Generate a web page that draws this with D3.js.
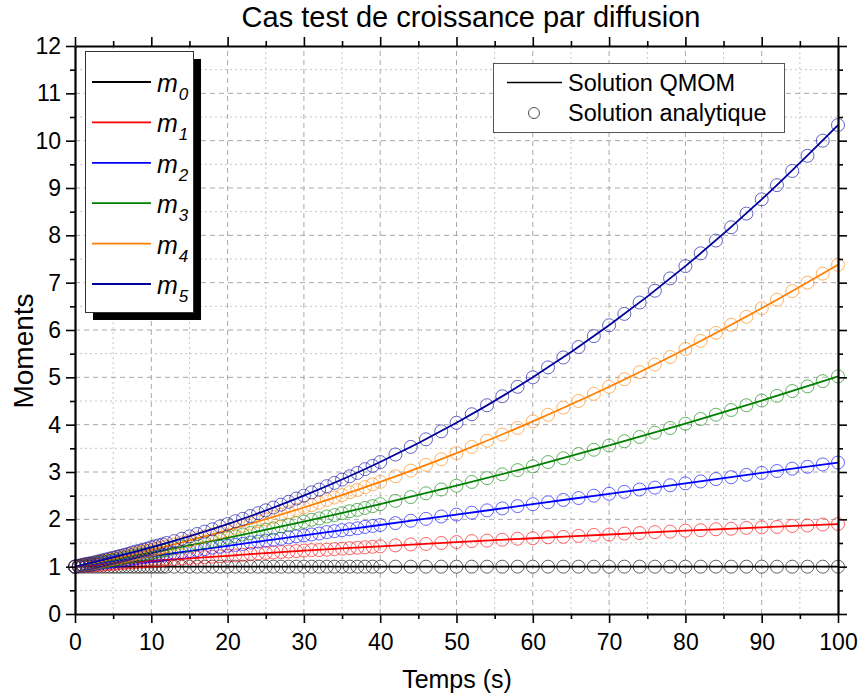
<!DOCTYPE html>
<html>
<head>
<meta charset="utf-8">
<script src="https://cdnjs.cloudflare.com/ajax/libs/d3/7.8.5/d3.min.js"></script>
<style>
    body { margin: 0; background: #fff; }
    text { font-family: "Liberation Sans", Arial, sans-serif; fill: #000; }
</style>
</head>
<body>
<div id="chart"></div>
<script>
// analytic solution: denser sampling at the start, like the reference markers
var tempsAnalytique = [0,0.5,1,1.5,2,2.5,3,3.5,4,4.5,5,5.5,6,6.5,7,7.5,8,8.5,9,9.5,10,10.5,11,11.5,12,
    13,14,15,16,17,18,19,20,21,22,23,24,25,26,27,28,29,30,31,32,33,34,35,36,37,38,39,40,
    42,44,46,48,50,52,54,56,58,60,62,64,66,68,70,72,74,76,78,80,82,84,86,88,90,92,94,96,98,100];
var m0Analytique = [1,1,1,1,1,1,1,1,1,1,1,1,1,1,1,1,1,1,1,1,1,1,1,1,1,
    1,1,1,1,1,1,1,1,1,1,1,1,1,1,1,1,1,1,1,1,1,1,1,1,1,1,1,1,
    1,1,1,1,1,1,1,1,1,1,1,1,1,1,1,1,1,1,1,1,1,1,1,1,1,1,1,1,1,1];
var m1Analytique = [1.00,1.01,1.01,1.02,1.03,1.03,1.04,1.04,1.05,1.06,1.06,1.07,1.08,1.08,1.09,1.09,1.10,1.11,1.11,1.12,1.12,1.13,1.13,1.14,1.15,
    1.16,1.17,1.18,1.19,1.20,1.21,1.22,1.23,1.24,1.25,1.27,1.28,1.29,1.30,1.31,1.32,1.33,1.34,1.35,1.35,1.36,1.37,1.38,1.39,1.40,1.41,1.42,1.43,
    1.45,1.47,1.48,1.50,1.52,1.54,1.55,1.57,1.59,1.60,1.62,1.63,1.65,1.67,1.68,1.70,1.71,1.73,1.74,1.76,1.77,1.79,1.80,1.82,1.83,1.84,1.86,1.87,1.89,1.90];
var m2Analytique = [1.00,1.01,1.02,1.03,1.04,1.06,1.07,1.08,1.09,1.10,1.11,1.12,1.13,1.14,1.15,1.17,1.18,1.19,1.20,1.21,1.22,1.23,1.24,1.25,1.26,
    1.29,1.31,1.33,1.35,1.37,1.40,1.42,1.44,1.46,1.48,1.51,1.53,1.55,1.57,1.59,1.62,1.64,1.66,1.68,1.70,1.73,1.75,1.77,1.79,1.81,1.84,1.86,1.88,
    1.92,1.97,2.01,2.06,2.10,2.14,2.19,2.23,2.28,2.32,2.36,2.41,2.45,2.50,2.54,2.58,2.63,2.67,2.72,2.76,2.80,2.85,2.89,2.94,2.98,3.02,3.07,3.11,3.16,3.20];
var m3Analytique = [1.00,1.01,1.03,1.04,1.06,1.07,1.09,1.10,1.11,1.13,1.14,1.16,1.17,1.19,1.20,1.22,1.23,1.25,1.26,1.28,1.29,1.31,1.32,1.34,1.35,
    1.39,1.42,1.45,1.48,1.51,1.54,1.58,1.61,1.64,1.68,1.71,1.74,1.78,1.81,1.85,1.88,1.92,1.95,1.99,2.02,2.06,2.09,2.13,2.17,2.20,2.24,2.28,2.32,
    2.39,2.47,2.55,2.63,2.71,2.79,2.87,2.95,3.04,3.12,3.21,3.29,3.38,3.47,3.56,3.65,3.74,3.83,3.93,4.02,4.12,4.21,4.31,4.41,4.51,4.61,4.71,4.81,4.92,5.02];
var m4Analytique = [1.00,1.02,1.03,1.05,1.07,1.08,1.10,1.12,1.13,1.15,1.17,1.19,1.21,1.22,1.24,1.26,1.28,1.30,1.32,1.33,1.35,1.37,1.39,1.41,1.43,
    1.47,1.51,1.55,1.60,1.64,1.68,1.73,1.77,1.82,1.86,1.91,1.96,2.00,2.05,2.10,2.15,2.20,2.25,2.30,2.35,2.41,2.46,2.51,2.57,2.62,2.68,2.74,2.79,
    2.91,3.03,3.15,3.27,3.40,3.53,3.66,3.79,3.93,4.07,4.21,4.36,4.50,4.65,4.80,4.96,5.11,5.27,5.43,5.60,5.77,5.94,6.11,6.28,6.46,6.64,6.82,7.00,7.19,7.38];
var m5Analytique = [1.00,1.02,1.04,1.06,1.07,1.09,1.11,1.13,1.15,1.17,1.19,1.21,1.23,1.25,1.27,1.30,1.32,1.34,1.36,1.38,1.41,1.43,1.45,1.47,1.50,
    1.54,1.59,1.64,1.69,1.74,1.79,1.85,1.90,1.96,2.01,2.07,2.13,2.19,2.25,2.31,2.37,2.44,2.50,2.57,2.63,2.70,2.77,2.84,2.91,2.98,3.06,3.13,3.21,
    3.37,3.53,3.69,3.86,4.04,4.22,4.41,4.60,4.80,5.00,5.21,5.42,5.64,5.87,6.10,6.34,6.58,6.83,7.09,7.35,7.62,7.89,8.17,8.46,8.76,9.06,9.36,9.68,10.00,10.33];

// QMOM solution, every 10 s
var tempsQmom = [0,10,20,30,40,50,60,70,80,90,100];
var m0Qmom = [1,1,1,1,1,1,1,1,1,1,1];
var m1Qmom = [1.00,1.12,1.23,1.34,1.43,1.52,1.60,1.68,1.76,1.83,1.90];
var m2Qmom = [1.00,1.22,1.44,1.66,1.88,2.10,2.32,2.54,2.76,2.98,3.20];
var m3Qmom = [1.00,1.29,1.61,1.95,2.32,2.71,3.12,3.56,4.02,4.51,5.02];
var m4Qmom = [1.00,1.35,1.77,2.25,2.79,3.40,4.07,4.80,5.60,6.46,7.38];
var m5Qmom = [1.00,1.41,1.90,2.50,3.21,4.04,5.00,6.10,7.35,8.76,10.33];

var indices = ["0", "1", "2", "3", "4", "5"];
var couleurs = ["#000000", "#ff0000", "#0000ff", "#008000", "#ff8000", "#00009c"];

var xTicks = [0, 10, 20, 30, 40, 50, 60, 70, 80, 90, 100];
var xMinor = [5, 15, 25, 35, 45, 55, 65, 75, 85, 95];
var yTicks = [0, 1, 2, 3, 4, 5, 6, 7, 8, 9, 10, 11, 12];
var yMinor = [0.5, 1.5, 2.5, 3.5, 4.5, 5.5, 6.5, 7.5, 8.5, 9.5, 10.5, 11.5];

function draw() {
    var w = 865;
    var h = 700;

    var svg = d3.select("#chart")
        .append("svg")
        .attr("width", w)
        .attr("height", h);

    var x = d3.scaleLinear().domain([0, 100]).range([75, 838]);
    var y = d3.scaleLinear().domain([0, 12]).range([614, 46]);

    // grid: dotted minor, dashed major
    var grid = svg.append("g");
    grid.selectAll(".vmin").data(xMinor).enter().append("line")
        .attr("x1", d => x(d)).attr("x2", d => x(d))
        .attr("y1", y(0)).attr("y2", y(12))
        .attr("stroke", "#c4c4c4").attr("stroke-dasharray", "2,3");
    grid.selectAll(".hmin").data(yMinor).enter().append("line")
        .attr("x1", x(0)).attr("x2", x(100))
        .attr("y1", d => y(d)).attr("y2", d => y(d))
        .attr("stroke", "#c4c4c4").attr("stroke-dasharray", "2,3");
    grid.selectAll(".vmaj").data(xTicks.slice(1, -1)).enter().append("line")
        .attr("x1", d => x(d)).attr("x2", d => x(d))
        .attr("y1", y(0)).attr("y2", y(12))
        .attr("stroke", "#a8a8a8").attr("stroke-dasharray", "5,4");
    grid.selectAll(".hmaj").data(yTicks.slice(1, -1)).enter().append("line")
        .attr("x1", x(0)).attr("x2", x(100))
        .attr("y1", d => y(d)).attr("y2", d => y(d))
        .attr("stroke", "#a8a8a8").attr("stroke-dasharray", "5,4");

    var analytique = [m0Analytique, m1Analytique, m2Analytique, m3Analytique, m4Analytique, m5Analytique];
    var qmom = [m0Qmom, m1Qmom, m2Qmom, m3Qmom, m4Qmom, m5Qmom];

    var ligne = d3.line()
        .x(d => x(d[0]))
        .y(d => y(d[1]))
        .curve(d3.curveMonotoneX);

    // QMOM lines then analytic circles, one moment at a time
    for (var k = 0; k < 6; k++) {
        var pts = tempsQmom.map((t, i) => [t, qmom[k][i]]);
        svg.append("path")
            .datum(pts)
            .attr("d", ligne)
            .attr("fill", "none")
            .attr("stroke", couleurs[k])
            .attr("stroke-width", 1.8);

        var marks = tempsAnalytique.map((t, i) => [t, analytique[k][i]]);
        svg.append("g").selectAll("circle")
            .data(marks)
            .enter()
            .append("circle")
            .attr("cx", d => x(d[0]))
            .attr("cy", d => y(d[1]))
            .attr("r", 6.5)
            .attr("fill", "none")
            .attr("stroke", couleurs[k])
            .attr("stroke-opacity", 0.6)
            .attr("stroke-width", 1);
    }

    // axes, ticks pointing outwards
    function styleAxis(g) {
        g.select(".domain").attr("stroke-width", 2.2);
        g.selectAll(".tick line").attr("stroke-width", 1.6);
        g.selectAll("text").attr("font-size", "23px").attr("fill", "#000");
    }
    svg.append("g").attr("transform", "translate(0," + y(0) + ")")
        .call(d3.axisBottom(x).tickValues(xTicks).tickSize(9).tickSizeOuter(0).tickPadding(11))
        .call(styleAxis);
    svg.append("g").attr("transform", "translate(0," + y(12) + ")")
        .call(d3.axisTop(x).tickValues(xTicks).tickSize(9).tickSizeOuter(0).tickFormat(""))
        .call(styleAxis);
    svg.append("g").attr("transform", "translate(" + x(0) + ",0)")
        .call(d3.axisLeft(y).tickValues(yTicks).tickSize(9).tickSizeOuter(0).tickPadding(5))
        .call(styleAxis);
    svg.append("g").attr("transform", "translate(" + x(100) + ",0)")
        .call(d3.axisRight(y).tickValues(yTicks).tickSize(9).tickSizeOuter(0).tickFormat(""))
        .call(styleAxis);

    // minor ticks
    svg.append("g").attr("transform", "translate(0," + y(0) + ")")
        .call(d3.axisBottom(x).tickValues(xMinor).tickSize(5).tickFormat(""))
        .call(g => g.select(".domain").remove()).call(styleAxis);
    svg.append("g").attr("transform", "translate(0," + y(12) + ")")
        .call(d3.axisTop(x).tickValues(xMinor).tickSize(5).tickFormat(""))
        .call(g => g.select(".domain").remove()).call(styleAxis);
    svg.append("g").attr("transform", "translate(" + x(0) + ",0)")
        .call(d3.axisLeft(y).tickValues(yMinor).tickSize(5).tickFormat(""))
        .call(g => g.select(".domain").remove()).call(styleAxis);
    svg.append("g").attr("transform", "translate(" + x(100) + ",0)")
        .call(d3.axisRight(y).tickValues(yMinor).tickSize(5).tickFormat(""))
        .call(g => g.select(".domain").remove()).call(styleAxis);

    // title and axis labels
    svg.append("text")
        .attr("x", 471).attr("y", 27)
        .attr("text-anchor", "middle")
        .attr("font-size", "29px")
        .text("Cas test de croissance par diffusion");
    svg.append("text")
        .attr("x", 457).attr("y", 688)
        .attr("text-anchor", "middle")
        .attr("font-size", "25px")
        .text("Temps (s)");
    svg.append("text")
        .attr("transform", "translate(33,351) rotate(-90)")
        .attr("text-anchor", "middle")
        .attr("font-size", "28px")
        .text("Moments");

    // legend of the moments, with its shadow
    svg.append("rect")
        .attr("x", 93).attr("y", 59).attr("width", 108).attr("height", 261)
        .attr("fill", "#000");
    svg.append("rect")
        .attr("x", 85.5).attr("y", 51.5).attr("width", 108).attr("height", 261)
        .attr("fill", "#fff").attr("stroke", "#333").attr("stroke-width", 1);
    var leg = svg.append("g").selectAll("g")
        .data(indices)
        .enter()
        .append("g")
        .attr("transform", (d, i) => "translate(0," + (82 + i * 40.4) + ")");
    leg.append("line")
        .attr("x1", 92).attr("x2", 151)
        .attr("stroke", (d, i) => couleurs[i])
        .attr("stroke-width", 1.8);
    var lab = leg.append("text")
        .attr("x", 157).attr("y", 10)
        .attr("font-size", "25px")
        .attr("font-style", "italic");
    lab.append("tspan").text("m");
    lab.append("tspan")
        .attr("dy", 8)
        .attr("dx", 1)
        .attr("font-size", "17px")
        .text(d => d);

    // legend of the two solutions
    svg.append("rect")
        .attr("x", 493.5).attr("y", 63.5).attr("width", 291).attr("height", 69)
        .attr("fill", "#fff").attr("stroke", "#555").attr("stroke-width", 1);
    svg.append("line")
        .attr("x1", 507).attr("x2", 562).attr("y1", 82.5).attr("y2", 82.5)
        .attr("stroke", "#000").attr("stroke-width", 1.6);
    svg.append("circle")
        .attr("cx", 534).attr("cy", 113).attr("r", 5.5)
        .attr("fill", "none").attr("stroke", "#000").attr("stroke-opacity", 0.7);
    svg.append("text")
        .attr("x", 568).attr("y", 91)
        .attr("font-size", "23.5px")
        .text("Solution QMOM");
    svg.append("text")
        .attr("x", 568).attr("y", 121)
        .attr("font-size", "23.5px")
        .text("Solution analytique");
}

window.onload = draw;
</script>
</body>
</html>
